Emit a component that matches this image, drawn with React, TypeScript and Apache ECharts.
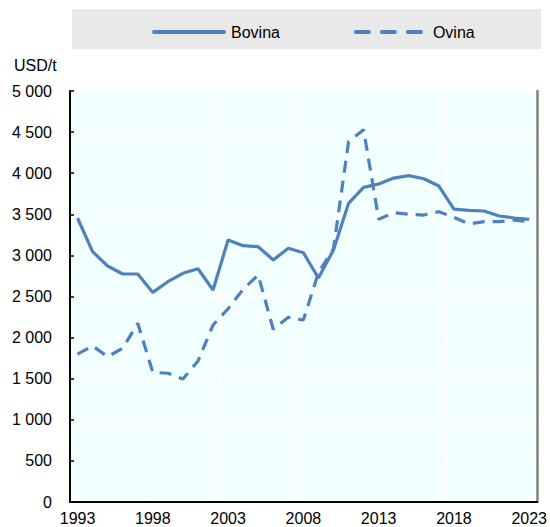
import React, { useEffect, useRef } from "react";
import * as echarts from "echarts";

const years: string[] = [
  "1993","1994","1995","1996","1997","1998","1999","2000","2001","2002",
  "2003","2004","2005","2006","2007","2008","2009","2010","2011","2012",
  "2013","2014","2015","2016","2017","2018","2019","2020","2021","2022","2023",
];

const bovina: number[] = [
  3455, 3045, 2871, 2774, 2774, 2550, 2680, 2782, 2838, 2579,
  3187, 3118, 3106, 2944, 3086, 3033, 2725, 3066, 3633, 3828,
  3869, 3941, 3970, 3933, 3844, 3564, 3548, 3540, 3479, 3455, 3439,
];

const ovina: number[] = [
  1800, 1898, 1768, 1870, 2174, 1578, 1566, 1496, 1715, 2153,
  2351, 2588, 2761, 2101, 2247, 2214, 2790, 3080, 4383, 4530,
  3439, 3519, 3500, 3491, 3532, 3463, 3382, 3410, 3410, 3430, 3410,
];

const unitLabel = "USD/t";
const seriesNames = ["Bovina", "Ovina"];

const FONT = "'Liberation Sans Narrow', 'Arial Narrow', 'Liberation Sans', Arial, sans-serif";
const FS = 16;
const BLUE = "#4F81BD";

export default function App() {
  const ref = useRef<HTMLDivElement>(null);

  useEffect(() => {
    if (!ref.current) return;
    const chart = echarts.init(ref.current, null, { renderer: "svg" });
    chart.setOption({
      animation: false,
      backgroundColor: "#ffffff",
      graphic: [
        {
          type: "rect",
          z: -10,
          shape: { x: 72, y: 9, width: 469, height: 40 },
          style: { fill: "#E9E9E9" },
        },
        {
          type: "text",
          left: 14,
          top: 57,
          style: { text: unitLabel, font: `${FS}px ${FONT}`, fill: "#000" },
        },
      ],
      legend: {
        left: 147,
        top: 19,
        itemWidth: 70,
        itemHeight: 20,
        itemGap: 74,
        itemStyle: { opacity: 0 },
        lineStyle: { width: 4, cap: "round" },
        textStyle: { fontFamily: FONT, fontSize: FS, color: "#000", padding: [0, 0, 0, 2] },
        data: [
          { name: seriesNames[0] },
          { name: seriesNames[1], lineStyle: { type: [13, 13], width: 4, cap: "round" } },
        ],
      },
      grid: {
        left: 70,
        right: 12,
        top: 91,
        bottom: 25,
        show: true,
        backgroundColor: "#F1FFFF",
        borderWidth: 0,
      },
      xAxis: [
        {
          type: "category",
          data: years,
          boundaryGap: true,
          axisLine: { lineStyle: { color: "#000", width: 2 } },
          axisTick: { inside: true, length: 6, interval: 4, lineStyle: { color: "#000", width: 1.5 } },
          axisLabel: {
            interval: 4,
            margin: 8,
            fontFamily: FONT,
            fontSize: FS,
            color: "#000",
          },
          splitLine: { show: true, interval: 4, lineStyle: { color: "#ffffff", width: 1 } },
        },
        {
          type: "category",
          data: years,
          position: "top",
          axisLine: { lineStyle: { color: "#000", width: 2 } },
          axisTick: { show: false },
          axisLabel: { show: false },
          splitLine: { show: false },
        },
      ],
      yAxis: [
        {
          type: "value",
          min: 0,
          max: 5000,
          interval: 500,
          axisLine: { show: true, lineStyle: { color: "#000", width: 2 } },
          axisTick: { show: true, inside: true, length: 4, lineStyle: { color: "#000", width: 1.5 } },
          axisLabel: {
            margin: 18,
            fontFamily: FONT,
            fontSize: FS,
            color: "#000",
            formatter: (v: number) => String(v).replace(/\B(?=(\d{3})+(?!\d))/g, " "),
          },
          splitLine: { show: true, lineStyle: { color: "#ffffff", width: 1 } },
        },
        {
          type: "value",
          min: 0,
          max: 5000,
          interval: 500,
          position: "right",
          axisLine: { show: true, lineStyle: { color: "#808080", width: 2.5 } },
          axisTick: { show: false },
          axisLabel: { show: false },
          splitLine: { show: false },
        },
      ],
      series: [
        {
          name: seriesNames[0],
          type: "line",
          data: bovina,
          symbol: "none",
          lineStyle: { color: BLUE, width: 3.2 },
          itemStyle: { color: BLUE },
          z: 3,
        },
        {
          name: seriesNames[1],
          type: "line",
          data: ovina,
          symbol: "none",
          lineStyle: { color: BLUE, width: 3.2, type: [12, 8] },
          itemStyle: { color: BLUE },
          z: 2,
        },
      ],
    });
    return () => chart.dispose();
  }, []);

  return (
    <div
      ref={ref}
      style={{ position: "absolute", left: 0, top: 0, width: 550, height: 527 }}
    />
  );
}
